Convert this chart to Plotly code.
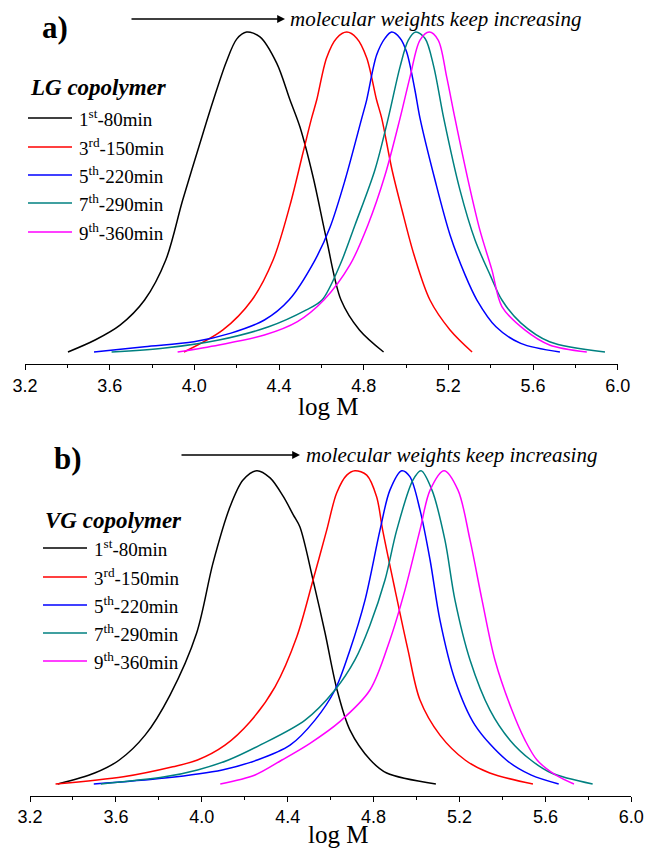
import plotly.graph_objects as go

# ---------------- data (log M, normalized intensity) ----------------
series_names = ["1<sup>st</sup>-80min", "3<sup>rd</sup>-150min", "5<sup>th</sup>-220min",
                "7<sup>th</sup>-290min", "9<sup>th</sup>-360min"]
colors = ["#000000", "#FF0000", "#0000FF", "#008080", "#FF00FF"]

# Panel a) LG copolymer
a1_x = [3.403, 3.531, 3.649, 3.765, 3.865, 3.945, 4.041, 4.090, 4.150, 4.200, 4.247, 4.310, 4.389, 4.452, 4.499, 4.561, 4.625, 4.693, 4.780, 4.894]
a1_y = [0, 0.0375, 0.084, 0.1625, 0.2875, 0.475, 0.684, 0.7875, 0.905, 0.978, 1.0, 0.985, 0.903, 0.7875, 0.703, 0.547, 0.35, 0.1625, 0.069, 0]
a3_x = [3.951, 4.135, 4.272, 4.372, 4.452, 4.513, 4.554, 4.578, 4.625, 4.672, 4.720, 4.767, 4.814, 4.861, 4.885, 4.934, 4.981, 5.038, 5.113, 5.208, 5.312]
a3_y = [0, 0.069, 0.1625, 0.2875, 0.459, 0.622, 0.731, 0.7875, 0.920, 0.981, 1.0, 0.981, 0.920, 0.7875, 0.731, 0.569, 0.444, 0.303, 0.1625, 0.069, 0]
a5_x = [3.526, 3.765, 3.998, 4.173, 4.331, 4.447, 4.570, 4.641, 4.712, 4.791, 4.814, 4.861, 4.901, 4.932, 4.972, 5.003, 5.042, 5.066, 5.137, 5.208, 5.279, 5.335, 5.425, 5.542, 5.727]
a5_y = [0, 0.0166, 0.032, 0.059, 0.1, 0.1625, 0.2875, 0.39, 0.5375, 0.731, 0.7875, 0.928, 0.981, 1.0, 0.981, 0.9375, 0.819, 0.731, 0.5375, 0.366, 0.241, 0.1625, 0.079, 0.027, 0]
a7_x = [3.609, 3.861, 4.116, 4.351, 4.527, 4.603, 4.688, 4.759, 4.853, 4.916, 4.972, 5.011, 5.046, 5.090, 5.131, 5.178, 5.255, 5.326, 5.397, 5.453, 5.542, 5.678, 5.940]
a7_y = [0, 0.0125, 0.0375, 0.079, 0.131, 0.1625, 0.272, 0.397, 0.569, 0.731, 0.892, 0.975, 1.0, 0.98, 0.892, 0.731, 0.506, 0.35, 0.241, 0.1625, 0.091, 0.032, 0]
a9_x = [3.921, 4.116, 4.331, 4.487, 4.612, 4.735, 4.820, 4.901, 4.972, 5.019, 5.066, 5.110, 5.152, 5.192, 5.231, 5.293, 5.349, 5.406, 5.453, 5.561, 5.678, 5.854]
a9_y = [0, 0.022, 0.053, 0.095, 0.1625, 0.272, 0.397, 0.553, 0.731, 0.86, 0.975, 1.0, 0.975, 0.86, 0.731, 0.5375, 0.381, 0.256, 0.142, 0.069, 0.022, 0]

# Panel b) VG copolymer
b1_x = [3.329, 3.501, 3.616, 3.736, 3.852, 3.976, 4.052, 4.131, 4.192, 4.256, 4.318, 4.380, 4.426, 4.457, 4.518, 4.574, 4.630, 4.690, 4.785, 4.861, 5.090]
b1_y = [0, 0.035, 0.0766, 0.156, 0.284, 0.482, 0.705, 0.884, 0.970, 1.0, 0.977, 0.917, 0.859, 0.820, 0.651, 0.482, 0.300, 0.172, 0.0766, 0.035, 0]
b3_x = [3.319, 3.635, 3.865, 3.980, 4.108, 4.224, 4.341, 4.442, 4.518, 4.582, 4.628, 4.675, 4.713, 4.768, 4.814, 4.842, 4.900, 4.960, 5.016, 5.109, 5.226, 5.341, 5.542]
b3_y = [0, 0.023, 0.055, 0.0766, 0.124, 0.198, 0.310, 0.469, 0.651, 0.811, 0.929, 0.986, 1.0, 0.986, 0.917, 0.811, 0.619, 0.428, 0.268, 0.156, 0.0766, 0.035, 0]
b5_x = [3.497, 3.827, 4.095, 4.258, 4.411, 4.527, 4.620, 4.690, 4.760, 4.830, 4.876, 4.931, 4.969, 5.016, 5.063, 5.109, 5.179, 5.272, 5.418, 5.532, 5.662]
b5_y = [0, 0.019, 0.045, 0.0766, 0.124, 0.204, 0.300, 0.428, 0.587, 0.811, 0.938, 1.0, 0.981, 0.875, 0.715, 0.523, 0.332, 0.188, 0.0766, 0.029, 0]
b7_x = [3.530, 3.827, 3.980, 4.124, 4.271, 4.481, 4.620, 4.713, 4.783, 4.853, 4.908, 4.983, 5.021, 5.072, 5.132, 5.179, 5.249, 5.342, 5.435, 5.532, 5.628, 5.820]
b7_y = [0, 0.023, 0.045, 0.0766, 0.124, 0.204, 0.300, 0.396, 0.507, 0.651, 0.811, 0.970, 1.0, 0.938, 0.779, 0.587, 0.396, 0.236, 0.140, 0.0766, 0.035, 0]
b9_x = [4.086, 4.248, 4.373, 4.504, 4.644, 4.783, 4.876, 4.946, 5.016, 5.063, 5.128, 5.193, 5.249, 5.305, 5.365, 5.444, 5.505, 5.561, 5.647, 5.733]
b9_y = [0, 0.029, 0.0766, 0.130, 0.200, 0.300, 0.460, 0.619, 0.811, 0.938, 1.0, 0.938, 0.779, 0.587, 0.396, 0.236, 0.140, 0.0766, 0.029, 0]

tick_vals = [3.2, 3.6, 4.0, 4.4, 4.8, 5.2, 5.6, 6.0]
tick_text = ["3.2", "3.6", "4.0", "4.4", "4.8", "5.2", "5.6", "6.0"]
panel_a_title = "LG copolymer"
panel_b_title = "VG copolymer"
arrow_text = "molecular weights keep increasing"
x_title = "log M"

# ---------------- figure ----------------
W, H = 646, 849
fig = go.Figure()

panel_a = [(a1_x, a1_y), (a3_x, a3_y), (a5_x, a5_y), (a7_x, a7_y), (a9_x, a9_y)]
panel_b = [(b1_x, b1_y), (b3_x, b3_y), (b5_x, b5_y), (b7_x, b7_y), (b9_x, b9_y)]

for (xs, ys), c, n in zip(panel_a, colors, series_names):
    fig.add_trace(go.Scatter(x=xs, y=ys, mode="lines", name=n, showlegend=False,
                             line=dict(color=c, width=1.5, shape="spline", smoothing=0.9),
                             xaxis="x", yaxis="y"))
for (xs, ys), c, n in zip(panel_b, colors, series_names):
    fig.add_trace(go.Scatter(x=xs, y=ys, mode="lines", name=n, showlegend=False,
                             line=dict(color=c, width=1.5, shape="spline", smoothing=0.9),
                             xaxis="x2", yaxis="y2"))

def px(v):
    return v / W

def py(v):
    return 1 - v / H

axis_common = dict(range=[3.2, 6.0], tickvals=tick_vals, ticktext=tick_text,
                   showline=True, linecolor="black", linewidth=1, mirror=False,
                   ticks="outside", ticklen=5, tickwidth=1, tickcolor="black",
                   minor=dict(ticks="outside", ticklen=3, dtick=0.2, tick0=3.2, tickcolor="black"),
                   showgrid=False, zeroline=False, automargin=False,
                   tickfont=dict(family="Arial, Liberation Sans", size=18, color="black"))

fig.update_layout(
    width=W, height=H, margin=dict(l=0, r=0, t=0, b=0, autoexpand=False),
    paper_bgcolor="white", plot_bgcolor="white",
    xaxis=dict(domain=[px(25), px(617.7)], anchor="y", **axis_common),
    yaxis=dict(domain=[py(364.3), py(10)], range=[-0.0384, 1.069], visible=False),
    xaxis2=dict(domain=[px(30), px(631.3)], anchor="y2", **axis_common),
    yaxis2=dict(domain=[py(795.7), py(440)], range=[-0.0373, 1.098], visible=False),
)

serif = "Times New Roman, Liberation Serif, serif"
ann = []
shapes = []

def panel_deco(label, lab_xy, arrow_x0, arrow_x1, arrow_y, text_x, title, title_xy,
               leg_x0, leg_x1, leg_ys, leg_tx, xt_xy):
    ann.append(dict(text="<b>%s</b>" % label, x=px(lab_xy[0]), y=py(lab_xy[1]), xref="paper", yref="paper",
                    showarrow=False, xanchor="center", yanchor="middle",
                    font=dict(family=serif, size=31, color="black")))
    ann.append(dict(text="", x=px(arrow_x1), y=py(arrow_y), xref="paper", yref="paper",
                    ax=-(arrow_x1 - arrow_x0), ay=0, axref="pixel", ayref="pixel",
                    showarrow=True, arrowhead=2, arrowsize=1.2, arrowwidth=1.3, arrowcolor="black"))
    ann.append(dict(text="<i>%s</i>" % arrow_text, x=px(text_x), y=py(arrow_y), xref="paper", yref="paper",
                    showarrow=False, xanchor="left", yanchor="middle",
                    font=dict(family=serif, size=21, color="black")))
    ann.append(dict(text="<b><i>%s</i></b>" % title, x=px(title_xy[0]), y=py(title_xy[1]), xref="paper", yref="paper",
                    showarrow=False, xanchor="left", yanchor="middle",
                    font=dict(family=serif, size=23, color="black")))
    for yy, c, n in zip(leg_ys, colors, series_names):
        shapes.append(dict(type="line", xref="paper", yref="paper", x0=px(leg_x0), x1=px(leg_x1),
                           y0=py(yy), y1=py(yy), line=dict(color=c, width=1.5)))
        ann.append(dict(text=n, x=px(leg_tx), y=py(yy), xref="paper", yref="paper",
                        showarrow=False, xanchor="left", yanchor="middle",
                        font=dict(family=serif, size=19, color="black")))
    ann.append(dict(text=x_title, x=px(xt_xy[0]), y=py(xt_xy[1]), xref="paper", yref="paper",
                    showarrow=False, xanchor="center", yanchor="middle",
                    font=dict(family=serif, size=25, color="black")))

panel_deco("a)", (55, 27), 130, 285, 19, 288, panel_a_title, (28, 88),
           28, 72, [118, 147, 175, 203, 232], 77, (328, 406))
panel_deco("b)", (68, 459), 180, 300, 455, 304, panel_b_title, (43, 520),
           43, 87, [548, 577, 605, 633, 661], 92, (338, 834))

fig.update_layout(annotations=ann, shapes=shapes)
fig.write_html("out.html", config={"displayModeBar": False},
               post_script="document.body.style.margin='0';document.body.style.overflow='hidden';")
